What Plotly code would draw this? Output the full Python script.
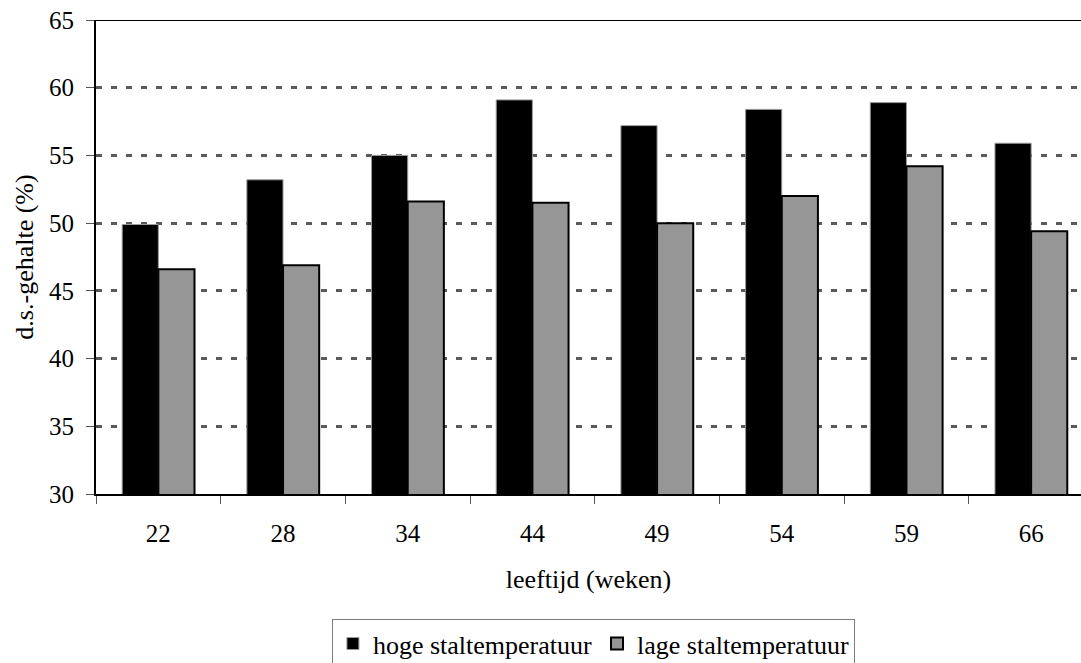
import plotly.graph_objects as go

weeks = ["22", "28", "34", "44", "49", "54", "59", "66"]
hoge = [49.9, 53.2, 55.0, 59.1, 57.2, 58.4, 58.9, 55.9]
lage = [46.6, 46.9, 51.6, 51.5, 50.0, 52.0, 54.2, 49.4]
y_ticks = [30, 35, 40, 45, 50, 55, 60, 65]

FONT = "Liberation Serif, Times New Roman, serif"
FS_TICK = 25
FS = 26

fig = go.Figure()
fig.add_trace(go.Bar(
    x=weeks, y=hoge, name="hoge staltemperatuur",
    marker=dict(color="#000000", line=dict(color="#9a9a9a", width=1)),
))
fig.add_trace(go.Bar(
    x=weeks, y=lage, name="lage staltemperatuur",
    marker=dict(color="#969696", line=dict(color="#000000", width=2)),
))

fig.add_shape(type="line", xref="paper", yref="y", x0=0, x1=1, y0=65, y1=65,
              line=dict(color="#000000", width=2), layer="below")

fig.update_layout(
    width=1081, height=663,
    margin=dict(l=96, r=0, t=20, b=169, autoexpand=False),
    paper_bgcolor="white", plot_bgcolor="white",
    barmode="group", bargap=0.42, bargroupgap=0,
    font=dict(family=FONT, size=FS, color="#000000"),
    showlegend=True,
    legend=dict(
        orientation="h", x=0.505, xanchor="center", y=-0.264, yanchor="top",
        bordercolor="#808080", borderwidth=1, bgcolor="white",
        font=dict(family=FONT, size=FS), itemwidth=30,
        tracegroupgap=0,
    ),
    xaxis=dict(
        type="category", range=[-0.5, 7.4], automargin=False,
        showline=True, linecolor="#000000", linewidth=2,
        ticks="outside", ticklen=8, tickcolor="#555555", tickwidth=1,
        tickson="boundaries", ticklabelstandoff=16,
        showgrid=False,
        tickfont=dict(family=FONT, size=FS_TICK),
        title=dict(text="leeftijd (weken)", font=dict(family=FONT, size=FS), standoff=24),
    ),
    yaxis=dict(
        range=[30, 65], tickvals=y_ticks, automargin=False,
        showline=True, linecolor="#000000", linewidth=2,
        ticks="outside", ticklen=8, tickcolor="#555555", tickwidth=1,
        ticklabelstandoff=7,
        showgrid=True, gridcolor="#5a5a5a", gridwidth=2.5, griddash="6px,9px",
        zeroline=False,
        tickfont=dict(family=FONT, size=FS_TICK),
        title=dict(text="d.s.-gehalte (%)", font=dict(family=FONT, size=FS), standoff=8),
    ),
)

fig.write_html("out.html", config={"displayModeBar": False},
               post_script="document.body.style.margin='0';")
